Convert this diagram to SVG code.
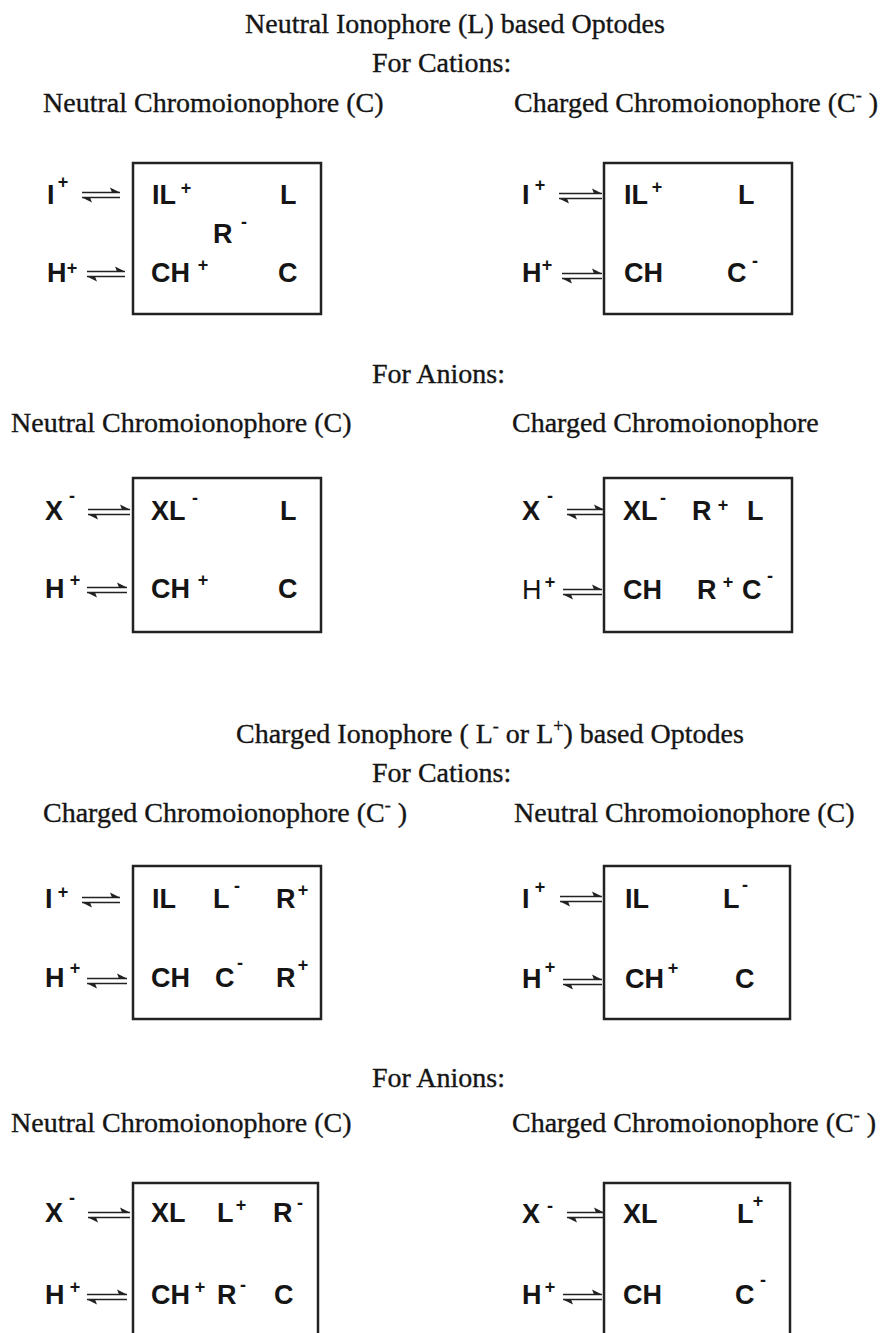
<svg xmlns="http://www.w3.org/2000/svg" width="887" height="1333" viewBox="0 0 887 1333">
<style>
.t{font-family:"Liberation Serif","Times New Roman",serif;font-size:28px;fill:#151515;stroke:#151515;stroke-width:0.35}
.l{font-family:"Liberation Sans",Arial,sans-serif;font-size:27px;font-weight:bold;fill:#151515}
.ln{font-family:"Liberation Sans",Arial,sans-serif;font-size:27px;font-weight:normal;fill:#151515}
.s{font-family:"Liberation Sans",Arial,sans-serif;font-size:18px;font-weight:bold;fill:#151515;text-anchor:middle}
.box{fill:none;stroke:#222;stroke-width:2.5}
.eq{stroke:#222;stroke-width:1.6;fill:none;marker-end:url(#harp)}
</style>
<defs>
<marker id="harp" markerUnits="userSpaceOnUse" markerWidth="12" markerHeight="12" viewBox="-11 -6 12 12" refX="0" refY="0" orient="auto">
<path d="M0,0 L-10,-5 L-8,0 Z" fill="#222"/>
</marker>
</defs>
<rect width="887" height="1333" fill="#fff"/>

<g id="headings">
<text class="t" x="245" y="33">Neutral Ionophore (L) based Optodes</text>
<text class="t" x="372" y="72">For Cations:</text>
<text class="t" x="43" y="112">Neutral Chromoionophore (C)</text>
<text class="t" x="514" y="112">Charged Chromoionophore (C<tspan font-size="18" dy="-11">-</tspan><tspan dy="11"> )</tspan></text>
<text class="t" x="372" y="383">For Anions:</text>
<text class="t" x="11" y="432">Neutral Chromoionophore (C)</text>
<text class="t" x="512" y="432">Charged Chromoionophore</text>
<text class="t" x="236" y="743">Charged Ionophore ( L<tspan font-size="18" dy="-11">-</tspan><tspan dy="11"> or L</tspan><tspan font-size="18" dy="-11">+</tspan><tspan dy="11">) based Optodes</tspan></text>
<text class="t" x="372" y="782">For Cations:</text>
<text class="t" x="43" y="822">Charged Chromoionophore (C<tspan font-size="18" dy="-11">-</tspan><tspan dy="11"> )</tspan></text>
<text class="t" x="514" y="822">Neutral Chromoionophore (C)</text>
<text class="t" x="372" y="1087">For Anions:</text>
<text class="t" x="11" y="1132">Neutral Chromoionophore (C)</text>
<text class="t" x="512" y="1132">Charged Chromoionophore (C<tspan font-size="18" dy="-11">-</tspan><tspan dy="11"> )</tspan></text>
</g>

<g id="n1">
<rect class="box" x="133" y="163" width="188" height="151"/>
<text class="l" x="47" y="204">I</text><text class="s" x="63" y="188">+</text>
<text class="l" x="47" y="282">H</text><text class="s" x="72" y="274">+</text>
<text class="l" x="152" y="204">IL</text><text class="s" x="186" y="194">+</text>
<text class="l" x="280" y="204">L</text>
<text class="l" x="213" y="243">R</text><text class="s" x="244" y="228">-</text>
<text class="l" x="151" y="282">CH</text><text class="s" x="203" y="271">+</text>
<text class="l" x="278" y="282">C</text>
</g>

<g id="n2">
<rect class="box" x="604" y="163" width="188" height="151"/>
<text class="l" x="522" y="204">I</text><text class="s" x="540" y="191">+</text>
<text class="l" x="522" y="282">H</text><text class="s" x="547" y="271">+</text>
<text class="l" x="624" y="204">IL</text><text class="s" x="657" y="193">+</text>
<text class="l" x="738" y="204">L</text>
<text class="l" x="624" y="282">CH</text>
<text class="l" x="727" y="282">C</text><text class="s" x="755" y="267">-</text>
</g>

<g id="n3">
<rect class="box" x="133" y="478" width="188" height="154"/>
<text class="l" x="45" y="520">X</text><text class="s" x="72" y="502">-</text>
<text class="l" x="151" y="520">XL</text><text class="s" x="195" y="504">-</text>
<text class="l" x="280" y="520">L</text>
<text class="l" x="45" y="598">H</text><text class="s" x="75" y="586">+</text>
<text class="l" x="151" y="598">CH</text><text class="s" x="203" y="586">+</text>
<text class="l" x="278" y="598">C</text>
</g>

<g id="n4">
<rect class="box" x="604" y="478" width="188" height="154"/>
<text class="l" x="522" y="520">X</text><text class="s" x="550" y="502">-</text>
<text class="l" x="623" y="520">XL</text><text class="s" x="663" y="504">-</text>
<text class="l" x="692" y="520">R</text><text class="s" x="723" y="511">+</text>
<text class="l" x="747" y="520">L</text>
<text class="ln" x="522" y="599">H</text><text class="s" x="550" y="588">+</text>
<text class="l" x="623" y="599">CH</text>
<text class="l" x="697" y="599">R</text><text class="s" x="728" y="588">+</text>
<text class="l" x="742" y="599">C</text><text class="s" x="770" y="582">-</text>
</g>

<g id="n5">
<rect class="box" x="133" y="866" width="188" height="153"/>
<text class="l" x="45" y="908">I</text><text class="s" x="63" y="898">+</text>
<text class="l" x="152" y="908">IL</text>
<text class="l" x="213" y="908">L</text><text class="s" x="237" y="892">-</text>
<text class="l" x="276" y="908">R</text><text class="s" x="303" y="896">+</text>
<text class="l" x="45" y="987">H</text><text class="s" x="75" y="974">+</text>
<text class="l" x="151" y="987">CH</text>
<text class="l" x="215" y="987">C</text><text class="s" x="240" y="969">-</text>
<text class="l" x="276" y="987">R</text><text class="s" x="303" y="971">+</text>
</g>

<g id="n6">
<rect class="box" x="604" y="866" width="186" height="153"/>
<text class="l" x="522" y="908">I</text><text class="s" x="540" y="893">+</text>
<text class="l" x="625" y="908">IL</text>
<text class="l" x="723" y="908">L</text><text class="s" x="745" y="891">-</text>
<text class="l" x="522" y="988">H</text><text class="s" x="550" y="973">+</text>
<text class="l" x="625" y="988">CH</text><text class="s" x="673" y="974">+</text>
<text class="l" x="735" y="988">C</text>
</g>

<g id="n7">
<rect class="box" x="133" y="1183" width="185" height="200"/>
<text class="l" x="45" y="1222">X</text><text class="s" x="72" y="1204">-</text>
<text class="l" x="151" y="1222">XL</text>
<text class="l" x="217" y="1222">L</text><text class="s" x="241" y="1211">+</text>
<text class="l" x="273" y="1222">R</text><text class="s" x="300" y="1209">-</text>
<text class="l" x="45" y="1304">H</text><text class="s" x="75" y="1293">+</text>
<text class="l" x="151" y="1304">CH</text><text class="s" x="200" y="1293">+</text>
<text class="l" x="217" y="1304">R</text><text class="s" x="243" y="1291">-</text>
<text class="l" x="274" y="1304">C</text>
</g>

<g id="n8">
<rect class="box" x="604" y="1183" width="186" height="200"/>
<text class="l" x="522" y="1223">X</text><text class="s" x="550" y="1212">-</text>
<text class="l" x="623" y="1223">XL</text>
<text class="l" x="737" y="1223">L</text><text class="s" x="758" y="1207">+</text>
<text class="l" x="522" y="1304">H</text><text class="s" x="550" y="1293">+</text>
<text class="l" x="623" y="1304">CH</text>
<text class="l" x="735" y="1304">C</text><text class="s" x="763" y="1286">-</text>
</g>

<g id="connectors">
<path class="eq" d="M82,192.5 H120"/><path class="eq" d="M120,197.5 H82"/>
<path class="eq" d="M87,271.5 H125"/><path class="eq" d="M125,276.5 H87"/>
<path class="eq" d="M559,193.5 H602"/><path class="eq" d="M602,198.5 H559"/>
<path class="eq" d="M562,273.5 H602"/><path class="eq" d="M602,278.5 H562"/>
<path class="eq" d="M88,509.5 H130"/><path class="eq" d="M130,514.5 H88"/>
<path class="eq" d="M87,587.5 H127"/><path class="eq" d="M127,592.5 H87"/>
<path class="eq" d="M567,509.5 H604"/><path class="eq" d="M604,514.5 H567"/>
<path class="eq" d="M563,589.5 H602"/><path class="eq" d="M602,594.5 H563"/>
<path class="eq" d="M82,897.5 H120"/><path class="eq" d="M120,902.5 H82"/>
<path class="eq" d="M87,978.5 H127"/><path class="eq" d="M127,983.5 H87"/>
<path class="eq" d="M560,896.5 H602"/><path class="eq" d="M602,901.5 H560"/>
<path class="eq" d="M563,979.5 H602"/><path class="eq" d="M602,984.5 H563"/>
<path class="eq" d="M88,1212.5 H130"/><path class="eq" d="M130,1217.5 H88"/>
<path class="eq" d="M87,1294.5 H127"/><path class="eq" d="M127,1299.5 H87"/>
<path class="eq" d="M567,1212.5 H604"/><path class="eq" d="M604,1217.5 H567"/>
<path class="eq" d="M563,1294.5 H602"/><path class="eq" d="M602,1299.5 H563"/>
</g>
</svg>
